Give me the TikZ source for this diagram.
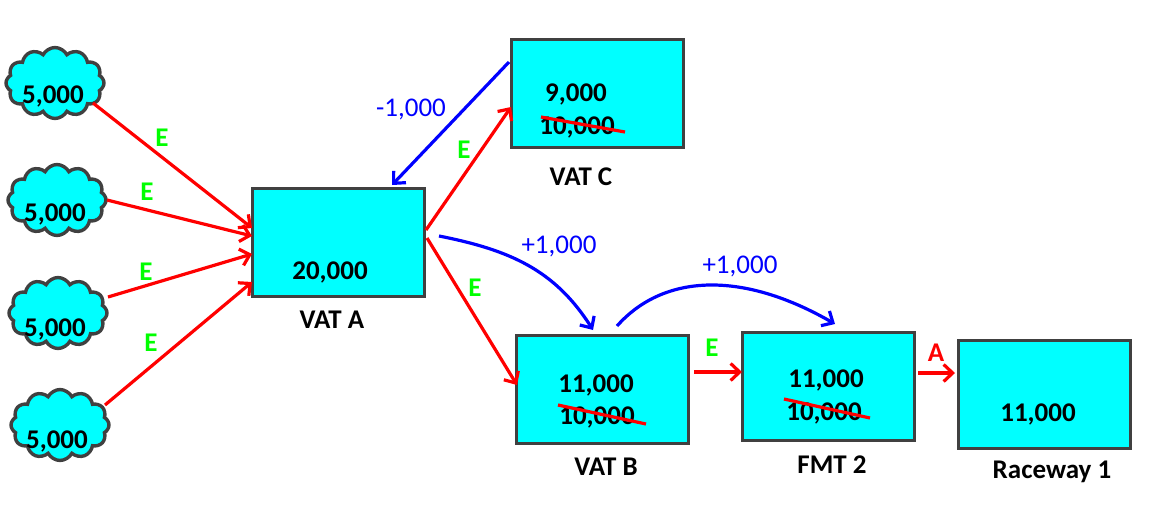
\documentclass[tikz,border=0pt]{standalone}
\usepackage{fontspec}
\setmainfont{Carlito}
\usetikzlibrary{arrows.meta,shapes.symbols}
\definecolor{boxfill}{HTML}{00FFFF}
\definecolor{boxline}{HTML}{404040}
\definecolor{edgegreen}{HTML}{00FF00}
\definecolor{edgered}{HTML}{FF0000}
\definecolor{flowblue}{HTML}{0000FF}
\tikzset{
  vat/.style={draw=boxline,fill=boxfill,line width=3.4pt,minimum width=171.5pt,minimum height=107.5pt,inner sep=0pt,outer sep=0pt},
  puff/.style={cloud,cloud puffs=12,cloud puff arc=125,aspect=1.35,draw=boxline,fill=boxfill,line width=3.4pt,minimum width=98pt,minimum height=71pt,inner sep=0pt},
  qty/.style={font=\bfseries\fontsize{27}{30}\selectfont,text=black,inner sep=0pt},
  captext/.style={font=\bfseries\fontsize{27}{30}\selectfont,text=black,inner sep=0pt},
  elab/.style={font=\bfseries\fontsize{27}{30}\selectfont,text=edgegreen,inner sep=0pt},
  alab/.style={font=\bfseries\fontsize{27}{30}\selectfont,text=edgered,inner sep=0pt},
  flab/.style={font=\fontsize{27}{30}\selectfont,text=flowblue,inner sep=0pt},
  redarrow/.style={draw=edgered,line width=3.2pt,-{Straight Barb[length=9pt,width=17pt,line width=3.2pt]}},
  bluearrow/.style={draw=flowblue,line width=3.2pt,-{Straight Barb[length=9pt,width=17pt,line width=3.2pt]}},
  strike/.style={draw=edgered,line width=3.2pt},
}
\begin{document}
\begin{tikzpicture}[x=1pt,y=-1pt]
\useasboundingbox (0,0) rectangle (1151,517);
% boxes
\node[vat] (vatA) at (338.5,242.5) {};
\node[vat] (vatC) at (597.5,93.5) {};
\node[vat] (vatB) at (602.5,389.5) {};
\node[vat] (fmt) at (828.5,386.5) {};
\node[vat] (race) at (1044.5,394.5) {};
% clouds
\node[puff] (c1) at (55,83) {};
\node[puff] (c2) at (57,200) {};
\node[puff] (c3) at (58,313) {};
\node[puff] (c4) at (60,425) {};
\node[qty] (t1) at (53,96.5) {5,000};
\node[qty] (t2) at (55,214.5) {5,000};
\node[qty] (t3) at (55,329.5) {5,000};
\node[qty] (t4) at (57,441.5) {5,000};
% box texts
\node[qty] (ta) at (330,272.5) {20,000};
\node[qty] (tc1) at (576,94.5) {9,000};
\node[qty] (tc2) at (577,127.5) {10,000};
\node[qty] (tb1) at (596,385.5) {11,000};
\node[qty] (tb2) at (597,417.5) {10,000};
\node[qty] (tf1) at (826,380.5) {11,000};
\node[qty] (tf2) at (824,413.5) {10,000};
\node[qty] (tr) at (1038,414.5) {11,000};
% captions
\node[captext] (la) at (332,320) {VAT A};
\node[captext] (lc) at (581,177) {VAT C};
\node[captext] (lb) at (606,467) {VAT B};
\node[captext] (lf) at (832,465) {FMT 2};
\node[captext] (lr) at (1052,472) {Raceway 1};
% coordinates of connector ends
\coordinate (c1o) at (93,103);
\coordinate (c2o) at (107,200);
\coordinate (c3o) at (108,297);
\coordinate (c4o) at (105,405);
\coordinate (a1) at (252,228);
\coordinate (a2) at (252,236);
\coordinate (a3) at (252,254);
\coordinate (a4) at (252,282);
\coordinate (aoc) at (426,230);
\coordinate (aob) at (427,238);
\coordinate (ci) at (511,107);
\coordinate (bi) at (517,385);
\coordinate (co) at (509,62);
\coordinate (ai) at (392,185);
\coordinate (af) at (439,236);
\coordinate (bt) at (593,330);
\coordinate (bf) at (617,326);
\coordinate (ft) at (835,324);
\coordinate (bo) at (694,372);
\coordinate (fi) at (742,372);
\coordinate (fo) at (918,373);
\coordinate (ri) at (955,373);
% red arrows
\draw[redarrow] (c1o) -- (a1);
\draw[redarrow] (c2o) -- (a2);
\draw[redarrow] (c3o) -- (a3);
\draw[redarrow] (c4o) -- (a4);
\draw[redarrow] (aoc) -- (ci);
\draw[redarrow] (aob) -- (bi);
\draw[redarrow] (bo) -- (fi);
\draw[redarrow] (fo) -- (ri);
% blue arrows
\draw[bluearrow] (co) -- (ai);
\draw[bluearrow] (af) .. controls (510,250) and (555,270) .. (bt);
\draw[bluearrow] (bf) .. controls (665,272) and (745,272) .. (ft);
% strikes
\coordinate (s1a) at (541,117); \coordinate (s1b) at (625,132);
\coordinate (s2a) at (558,405); \coordinate (s2b) at (646,424);
\coordinate (s3a) at (784,399); \coordinate (s3b) at (870,418);
\draw[strike] (s1a) -- (s1b);
\draw[strike] (s2a) -- (s2b);
\draw[strike] (s3a) -- (s3b);
% edge labels
\node[elab] (e1) at (162,138) {E};
\node[elab] (e2) at (147,192) {E};
\node[elab] (e3) at (146,272) {E};
\node[elab] (e4) at (151,343) {E};
\node[elab] (e5) at (464,150) {E};
\node[elab] (e6) at (475,288) {E};
\node[elab] (e7) at (712,348) {E};
\node[alab] (a) at (936,353) {A};
\node[flab] (f1) at (411,109.5) {-1,000};
\node[flab] (f2) at (559,246.5) {+1,000};
\node[flab] (f3) at (740,266.5) {+1,000};
\end{tikzpicture}
\end{document}
